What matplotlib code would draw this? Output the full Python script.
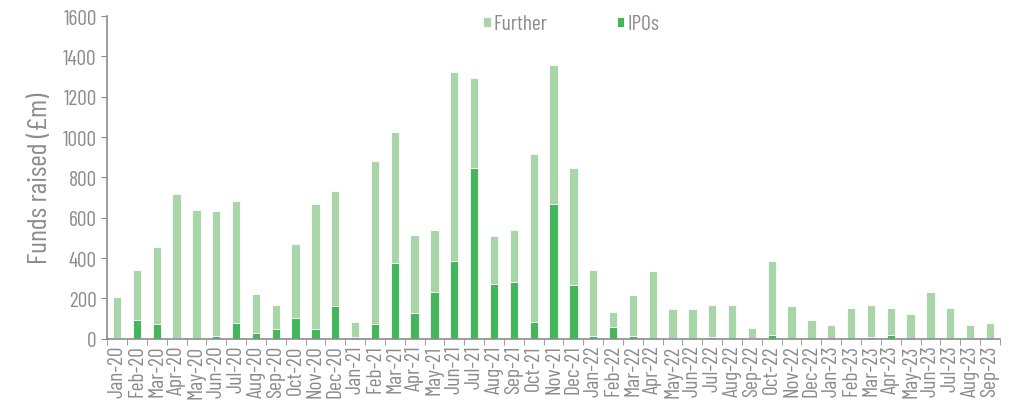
"""Funds raised chart: IPOs vs further issues, monthly."""

import matplotlib
matplotlib.use('Agg')
import matplotlib.pyplot as plt
import numpy as np

plt.rcParams['font.family'] = ['Barlow Condensed', 'DejaVu Sans']

months = [
    'Jan-20', 'Feb-20', 'Mar-20', 'Apr-20', 'May-20', 'Jun-20', 'Jul-20', 'Aug-20', 'Sep-20',
    'Oct-20', 'Nov-20', 'Dec-20', 'Jan-21', 'Feb-21', 'Mar-21', 'Apr-21', 'May-21', 'Jun-21',
    'Jul-21', 'Aug-21', 'Sep-21', 'Oct-21', 'Nov-21', 'Dec-21', 'Jan-22', 'Feb-22', 'Mar-22',
    'Apr-22', 'May-22', 'Jun-22', 'Jul-22', 'Aug-22', 'Sep-22', 'Oct-22', 'Nov-22', 'Dec-22',
    'Jan-23', 'Feb-23', 'Mar-23', 'Apr-23', 'May-23', 'Jun-23', 'Jul-23', 'Aug-23', 'Sep-23',
]
ipos = [
    3, 94, 75, 3, 0, 15, 80, 30, 48,
    105, 48, 165, 10, 74, 376, 129, 233, 386,
    846, 274, 282, 84, 668, 269, 12, 61, 12,
    0, 3, 0, 10, 0, 3, 20, 0, 0,
    0, 0, 10, 20, 0, 0, 0, 3, 0,
]
totals = [
    205, 342, 455, 718, 640, 635, 683, 220, 170,
    470, 668, 735, 85, 881, 1025, 515, 540, 1322,
    1294, 511, 540, 914, 1358, 848, 340, 132, 219,
    335, 147, 147, 170, 170, 54, 386, 165, 91,
    68, 155, 170, 155, 124, 234, 155, 68, 78,
]
further = [t - i for t, i in zip(totals, ipos)]

grey = '#8c8c8c'
light_green = '#a8d6a8'
dark_green = '#44b65c'

fig = plt.figure(figsize=(10.11, 4.06), dpi=100)
ax = fig.add_axes([0.106, 0.163, 0.883, 0.795])

x = np.arange(len(months))
ax.bar(x, ipos, width=0.42, color=dark_green, edgecolor='white', linewidth=0.6, label='IPOs')
ax.bar(x, further, bottom=ipos, width=0.42, color=light_green, edgecolor='white',
       linewidth=0.6, label='Further')

ax.set_xlim(-0.5, len(months) - 0.5)
ax.set_ylim(0, 1600)
ax.set_yticks(range(0, 1601, 200))

ax.set_xticks(x)
ax.set_xticklabels(months, rotation=90)
ax.set_xticks(np.arange(len(months) + 1) - 0.5, minor=True)
ax.tick_params(axis='x', which='major', length=0, pad=4, labelsize=15.5, labelcolor=grey)
ax.tick_params(axis='x', which='minor', length=4, color=grey)
ax.tick_params(axis='y', length=4, color=grey, labelsize=15.5, labelcolor=grey)

for side in ['top', 'right']:
    ax.spines[side].set_visible(False)
for side in ['left', 'bottom']:
    ax.spines[side].set_color(grey)
    ax.spines[side].set_linewidth(1.2)

ax.set_ylabel('Funds raised (£m)', fontsize=20, color=grey, labelpad=8)

handles, labels = ax.get_legend_handles_labels()
ax.legend(handles[::-1], labels[::-1], loc='upper center', bbox_to_anchor=(0.52, 1.065),
          ncol=2, frameon=False, fontsize=15.5, labelcolor=grey, handlelength=0.35,
          handleheight=0.35, handletextpad=0.15, columnspacing=3.2)

plt.savefig('out.png', dpi=100)
plt.close(fig)
